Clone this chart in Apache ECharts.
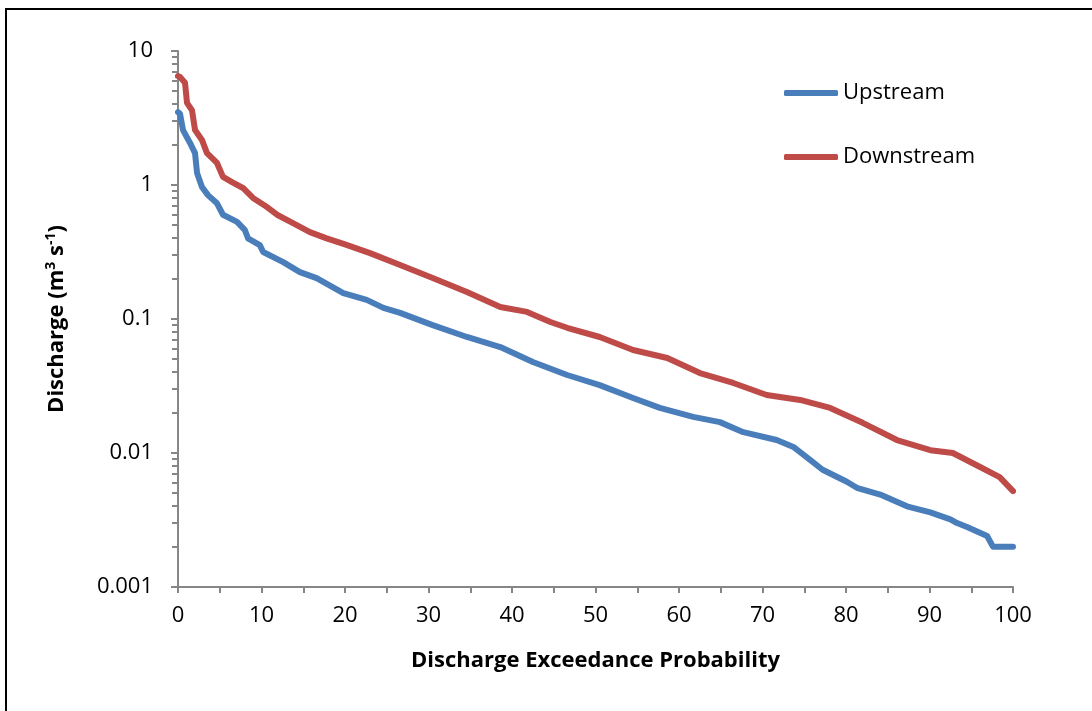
<!DOCTYPE html>
<html>
<head>
<meta charset="utf-8">
<script src="https://cdn.jsdelivr.net/npm/echarts@6/dist/echarts.min.js"></script>
<style>
html,body{margin:0;padding:0;background:#fff;}
#chart{width:1092px;height:711px;}
</style>
</head>
<body>
<div id="chart"></div>
<script>
// ---- Data ----
const seriesNames = ['Upstream', 'Downstream'];

const upstreamX = [0, 0.24, 0.6, 1.44, 2.04, 2.28, 2.87, 3.59, 4.67, 5.39, 7.07, 8.02, 8.38, 9.8, 10.2, 12.6, 14.6, 16.6, 19.8, 22.6, 24.6, 26.6, 30.5, 34.6, 38.6, 42.5, 46.6, 50.5, 54.5, 57.7, 61.7, 64.9, 67.7, 71.7, 73.7, 75.7, 77.2, 80.1, 81.3, 84.1, 87.3, 90.1, 92.5, 93.3, 94.5, 96.9, 97.6, 100];
const upstreamQ = [3.5, 3.4, 2.57, 2.06, 1.73, 1.23, 0.967, 0.84, 0.73, 0.60, 0.53, 0.46, 0.40, 0.356, 0.316, 0.266, 0.224, 0.202, 0.156, 0.139, 0.121, 0.111, 0.090, 0.0734, 0.0618, 0.0478, 0.0382, 0.0321, 0.0257, 0.0217, 0.0186, 0.0170, 0.0143, 0.0125, 0.0111, 0.0089, 0.0075, 0.0061, 0.0055, 0.0049, 0.0040, 0.0036, 0.0032, 0.0030, 0.0028, 0.0024, 0.0020, 0.0020];

const downstreamX = [0, 0.24, 0.84, 1.08, 1.68, 2.04, 2.87, 3.47, 4.67, 5.39, 6.47, 7.78, 8.98, 10.66, 11.86, 13.77, 15.8, 17.8, 20, 23, 26.6, 30.5, 34.6, 38.6, 41.8, 44.6, 46.6, 50.5, 54.5, 58.6, 62.5, 66.5, 70.5, 74.5, 78.1, 82.0, 86.1, 90.1, 92.8, 96.0, 98.4, 100];
const downstreamQ = [6.5, 6.4, 5.8, 4.1, 3.6, 2.57, 2.17, 1.73, 1.46, 1.15, 1.05, 0.95, 0.80, 0.685, 0.60, 0.52, 0.445, 0.40, 0.36, 0.31, 0.253, 0.202, 0.159, 0.123, 0.113, 0.095, 0.086, 0.0734, 0.0587, 0.0512, 0.0395, 0.0333, 0.0271, 0.0249, 0.0217, 0.0168, 0.0125, 0.0105, 0.0100, 0.0079, 0.0066, 0.0052];

const xTicks = [0, 10, 20, 30, 40, 50, 60, 70, 80, 90, 100];
const yDecades = [0.001, 0.01, 0.1, 1, 10];
const xTitle = 'Discharge Exceedance Probability';

// ---- Chart ----
const FONT = '"Open Sans", "DejaVu Sans", sans-serif';
const AXIS_COLOR = '#868686';
const colors = ['#4A7EBB', '#BE4B48'];

function zip(xs, ys) { return xs.map((x, i) => [x, ys[i]]); }

const chart = echarts.init(document.getElementById('chart'), null, { renderer: 'canvas' });

const option = {
  animation: false,
  backgroundColor: '#fff',
  color: colors,
  grid: { left: 178, right: 79, top: 51, bottom: 124, containLabel: false },
  legend: {
    orient: 'vertical',
    left: 784,
    top: 78,
    padding: 0,
    itemGap: 34,
    itemWidth: 54,
    itemHeight: 6,
    itemTextGap: 5,
    icon: 'roundRect',
    textStyle: { fontFamily: FONT, fontSize: 22, color: '#000', lineHeight: 30 },
    data: seriesNames
  },
  xAxis: {
    type: 'value',
    min: xTicks[0],
    max: xTicks[xTicks.length - 1],
    interval: 10,
    name: xTitle,
    nameLocation: 'middle',
    nameGap: 63,
    nameTextStyle: { fontFamily: FONT, fontSize: 22, fontWeight: 'bold', color: '#000' },
    axisLine: { show: true, onZero: false, lineStyle: { color: AXIS_COLOR, width: 2 } },
    axisTick: { show: true, inside: false, length: 6, lineStyle: { color: AXIS_COLOR, width: 2 } },
    minorTick: { show: true, splitNumber: 2, length: 6, lineStyle: { color: AXIS_COLOR, width: 2 } },
    axisLabel: { margin: 18, fontFamily: FONT, fontSize: 22, color: '#000' },
    splitLine: { show: false },
    minorSplitLine: { show: false }
  },
  yAxis: {
    type: 'log',
    logBase: 10,
    min: yDecades[0],
    max: yDecades[yDecades.length - 1],
    name: '{t|Discharge (m}{s|3}{t| s}{s|-1}{t|)}',
    nameLocation: 'middle',
    nameGap: 108,
    nameRotate: 90,
    nameTextStyle: {
      rich: {
        t: { fontFamily: FONT, fontSize: 22, fontWeight: 'bold', color: '#000', lineHeight: 26 },
        s: { fontFamily: FONT, fontSize: 14, fontWeight: 'bold', color: '#000', lineHeight: 26, padding: [0, 0, 11, 0] }
      }
    },
    axisLine: { show: true, onZero: false, lineStyle: { color: AXIS_COLOR, width: 2 } },
    axisTick: { show: true, inside: false, length: 7, lineStyle: { color: AXIS_COLOR, width: 2 } },
    axisLabel: {
      margin: 25, fontFamily: FONT, fontSize: 22, color: '#000',
      formatter: function (v) {
        const found = yDecades.find(d => Math.abs(Math.log10(d) - Math.log10(v)) < 1e-6);
        return found !== undefined ? String(found) : '';
      }
    },
    splitLine: { show: false }
  },
  series: [
    {
      name: seriesNames[0], type: 'line', data: zip(upstreamX, upstreamQ),
      showSymbol: false, symbol: 'circle', symbolSize: 4,
      lineStyle: { width: 6, color: colors[0], cap: 'round', join: 'round' },
      itemStyle: { color: colors[0] }
    },
    {
      name: seriesNames[1], type: 'line', data: zip(downstreamX, downstreamQ),
      showSymbol: false, symbol: 'circle', symbolSize: 4,
      lineStyle: { width: 6, color: colors[1], cap: 'round', join: 'round' },
      itemStyle: { color: colors[1] }
    }
  ]
};

chart.setOption(option);

// Log-axis minor ticks (2..9 in each decade), positioned through the chart's own y scale
const minorVals = [];
for (let i = 0; i < yDecades.length - 1; i++) {
  for (let k = 2; k <= 9; k++) minorVals.push(yDecades[i] * k);
}
const axisX = chart.convertToPixel({ xAxisIndex: 0 }, xTicks[0]);
const graphics = minorVals.map(v => {
  const py = Math.round(chart.convertToPixel({ yAxisIndex: 0 }, v));
  return {
    type: 'line', silent: true,
    shape: { x1: axisX - 6, y1: py, x2: axisX, y2: py },
    style: { stroke: AXIS_COLOR, lineWidth: 2 }
  };
});
// Outer frame (left and top edges visible, like the cropped reference)
graphics.push({
  type: 'rect', silent: true, z: 100,
  shape: { x: 6, y: 9, width: 1200, height: 1000 },
  style: { fill: 'none', stroke: '#000', lineWidth: 2 }
});
chart.setOption({ graphic: graphics });
</script>
</body>
</html>
